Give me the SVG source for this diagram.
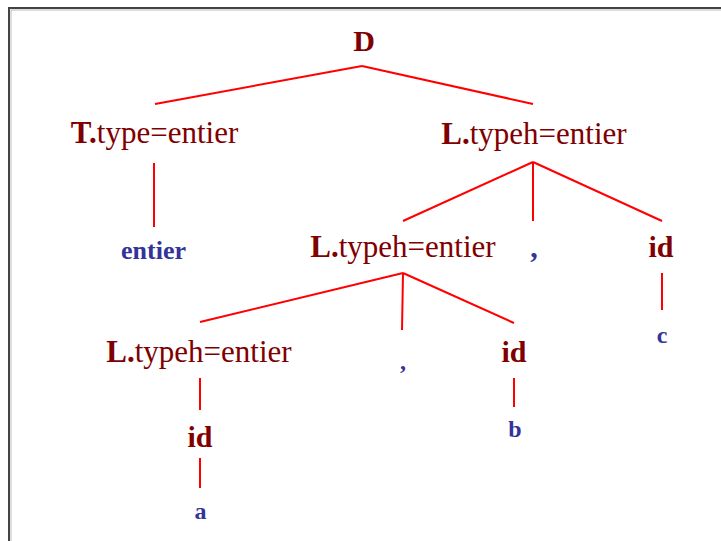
<svg xmlns="http://www.w3.org/2000/svg" width="721" height="541" viewBox="0 0 721 541">
<style>
text{font-family:"Liberation Serif","Times New Roman",serif;text-anchor:middle}
.nt{fill:#800000;font-size:31px}
.b{font-weight:bold}
.t{fill:#333399;font-weight:bold}
.e{stroke:#ff0000;stroke-width:2;fill:none}
</style>
<rect x="0" y="0" width="721" height="541" fill="#fff"/>
<path d="M9,541 V8 H721" fill="none" stroke="#444" stroke-width="2"/>
<path d="M11,541 V10 H721" fill="none" stroke="#bbb" stroke-width="1"/>
<g id="edges">
<line class="e" x1="362" y1="66" x2="155" y2="104"/>
<line class="e" x1="362" y1="66" x2="533" y2="104"/>
<line class="e" x1="154" y1="163" x2="154" y2="227"/>
<line class="e" x1="533" y1="162" x2="403" y2="221"/>
<line class="e" x1="533" y1="162" x2="533" y2="221"/>
<line class="e" x1="533" y1="162" x2="662" y2="221"/>
<line class="e" x1="403" y1="273" x2="200" y2="322"/>
<line class="e" x1="403" y1="273" x2="402" y2="330"/>
<line class="e" x1="403" y1="273" x2="514" y2="323"/>
<line class="e" x1="662" y1="273" x2="662" y2="310"/>
<line class="e" x1="200" y1="378" x2="200" y2="410"/>
<line class="e" x1="514" y1="378" x2="514" y2="407"/>
<line class="e" x1="200" y1="458" x2="200" y2="488"/>
</g>
<g id="D"><text class="nt b" x="364" y="51" style="font-size:30px">D</text></g>
<g id="T"><text class="nt" x="154.5" y="143"><tspan class="b">T.</tspan>type=entier</text></g>
<g id="L1"><text class="nt" x="534" y="144"><tspan class="b">L.</tspan>typeh=entier</text></g>
<g id="entier"><text class="t" x="153.5" y="259" style="font-size:26px">entier</text></g>
<g id="L2"><text class="nt" x="403" y="257"><tspan class="b">L.</tspan>typeh=entier</text></g>
<g id="comma1"><text class="t" x="534" y="257" style="font-size:30px">,</text></g>
<g id="id1"><text class="nt b" x="661" y="257" style="font-size:30px">id</text></g>
<g id="c"><text class="t" x="662" y="343" style="font-size:24px">c</text></g>
<g id="L3"><text class="nt" x="199" y="362"><tspan class="b">L.</tspan>typeh=entier</text></g>
<g id="comma2"><text class="t" x="403" y="369" style="font-size:24px">,</text></g>
<g id="id2"><text class="nt b" x="514" y="362" style="font-size:30px">id</text></g>
<g id="b"><text class="t" x="515" y="437" style="font-size:24px">b</text></g>
<g id="id3"><text class="nt b" x="200" y="447" style="font-size:30px">id</text></g>
<g id="a"><text class="t" x="200.5" y="519" style="font-size:24px">a</text></g>
</svg>
